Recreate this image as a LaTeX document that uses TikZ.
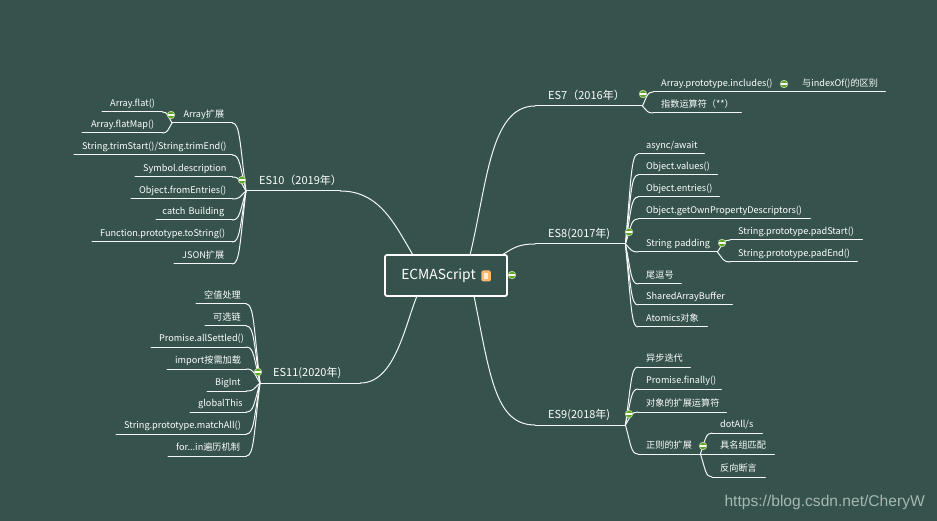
\documentclass[tikz,border=0pt]{standalone}
\usepackage{fontspec}
\setmainfont{Noto Sans CJK SC}
\usetikzlibrary{calc}
\definecolor{bgc}{HTML}{35524C}
\definecolor{dotc}{HTML}{3E5B55}
\definecolor{linec}{HTML}{F4F7F6}
\definecolor{txt}{HTML}{FFFFFF}
\definecolor{grn}{HTML}{5FA31E}
\definecolor{mark}{HTML}{A7B7B1}
\tikzset{
  topicbox/.style={inner ysep=2.5pt,inner xsep=8pt,anchor=south west,text=txt,font=\fontsize{9.15}{11}\selectfont},
  trunk/.style={font=\fontsize{11}{13}\selectfont,align=left,inner ysep=3.6pt},
  lt/.style={align=right},
  rt/.style={align=left},
  conn/.style={draw=linec,line width=1pt,line cap=round},
  collapser/.style={circle,draw=white!60!grn,fill=grn,line width=0.7pt,minimum size=7.5pt,inner sep=0pt},
}
% \topic[opts]{name}{x1}{x2}{y}{text}
\newcommand\topic[6][]{%
  \pgfmathsetlengthmacro\topicw{(#4-#3)*1pt}%
  \pgfmathsetlengthmacro\topict{(#4-#3-16)*1pt}%
  \node[topicbox,#1,minimum width=\topicw,text width=\topict] (#2) at (#3,#5) {\rule[-2.5pt]{0pt}{10pt}#6};
  \draw[conn] (#2.south west) -- (#2.south east);
}
\newcommand\trunktext[1]{\hspace*{5pt}\mbox{#1}}
% curved link: from hub (a) to child end (b)
\newcommand\curvelink[2]{%
  \draw[conn] let \p1=(#1),\p2=(#2) in (\p1) .. controls ({\x1+(\x2-\x1)*.45},{\y1+(\y2-\y1)*.7}) and ({\x1+(\x2-\x1)*.45},\y2) .. (\p2);
}
\newcommand\collapser[3]{%
  \node[collapser] (#1) at (#2,#3) {};
  \draw[white,line width=1.2pt] ($(#1.west)+(1.3,0)$) -- ($(#1.east)+(-1.3,0)$);
}
\begin{document}
\begin{tikzpicture}[x=1pt,y=-1pt]
\useasboundingbox (0,0) rectangle (937,521);
\fill[bgc] (0,0) rectangle (937,521);
\foreach \i in {0,...,26}{\foreach \j in {0,...,14}{\fill[dotc] (9+35*\i,22+35*\j) circle (0.6);}}

% root
\node[draw=white,line width=1.8pt,rounded corners=2pt,minimum width=122pt,minimum height=41pt,inner sep=0pt] (root) at (446,275.5) {};
\node[text=txt,font=\fontsize{13.8}{16}\selectfont,inner sep=0pt] (rootlabel) at (438.5,276) {ECMAScript};
\node[fill=orange!55!white,rounded corners=1.5pt,minimum width=9.5pt,minimum height=11pt,inner sep=0pt] (icon) at (486,276) {};
\node[fill=white!85!orange,minimum width=4pt,minimum height=6.5pt,inner sep=0pt] (iconin) at (486,276) {};
\collapser{croot}{512}{275}
\coordinate (rootA) at (413,255);
\coordinate (rootB) at (417,296);
\coordinate (rootC) at (470,255);
\coordinate (rootD) at (502,255);
\coordinate (rootE) at (474,296);

% trunks
\topic[trunk]{es10}{246}{340}{191}{\trunktext{ES10（2019年）}}
\topic[trunk]{es11}{260}{360}{383}{\trunktext{ES11(2020年)}}
\topic[trunk]{es7}{535}{642}{106}{\trunktext{ES7（2016年）}}
\topic[trunk]{es8}{535}{625}{244}{\trunktext{ES8(2017年)}}
\topic[trunk]{es9}{535}{625}{425}{\trunktext{ES9(2018年)}}
\draw[conn] (es10.south east) .. controls (380,191) and (395,225) .. (rootA);
\draw[conn] (es11.south east) .. controls (395,383) and (405,325) .. (rootB);
\draw[conn] (es7.south west) .. controls (490,106) and (487,185) .. (rootC);
\draw[conn] (es8.south west) .. controls (517,244) and (512,249) .. (rootD);
\draw[conn] (es9.south west) .. controls (495,425) and (490,375) .. (rootE);

% ES10
\topic[lt]{a10}{172}{232}{123}{Array扩展}
\topic[lt]{a11}{102}{162}{112}{Array.flat()}
\topic[lt]{a12}{82}{162}{133}{Array.flatMap()}
\topic[lt]{a2}{74}{232}{155}{String.trimStart()/String.trimEnd()}
\topic[lt]{a3}{135}{232}{177}{Symbol.description}
\topic[lt]{a4}{131}{232}{199}{Object.fromEntries()}
\topic[lt]{a5}{156}{232}{220}{\makebox[\linewidth][r]{catch Building}}
\topic[lt]{a6}{92}{232}{242}{Function.prototype.toString()}
\topic[lt]{a7}{174}{232}{264}{JSON扩展}
\foreach \c in {a10,a2,a3,a4,a5,a6,a7}{\curvelink{es10.south west}{\c.south east}}
\curvelink{a10.south west}{a11.south east}
\curvelink{a10.south west}{a12.south east}
\collapser{ca10}{171}{115}
\collapser{ces10}{242}{180}

% ES11
\topic[lt]{b1}{196}{246}{304}{空值处理}
\topic[lt]{b2}{205}{246}{326}{可选链}
\topic[lt]{b3}{151}{246}{347}{Promise.allSettled()}
\topic[lt]{b4}{167}{246}{369}{import按需加载}
\topic[lt]{b5}{207}{246}{391}{BigInt}
\topic[lt]{b6}{190}{246}{412}{globalThis}
\topic[lt]{b7}{116}{246}{434}{String.prototype.matchAll()}
\topic[lt]{b8}{168}{246}{456}{for...in遍历机制}
\foreach \c in {b1,b2,b3,b4,b5,b6,b7,b8}{\curvelink{es11.south west}{\c.south east}}
\collapser{ces11}{258}{372}

% ES7
\topic[rt]{c1}{653}{782}{92}{Array.prototype.includes()}
\topic[rt]{c11}{794}{885}{92}{与indexOf()的区别}
\topic[rt]{c2}{653}{741}{113}{指数运算符（**）}
\draw[conn] (c1.south east) -- (c11.south west);
\curvelink{es7.south east}{c1.south west}
\curvelink{es7.south east}{c2.south west}
\collapser{ces7}{643}{94}
\collapser{cc1}{784}{84}

% ES8
\topic[rt]{d1}{638}{704}{154}{async/await}
\topic[rt]{d2}{638}{717}{175}{Object.values()}
\topic[rt]{d3}{638}{719}{197}{Object.entries()}
\topic[rt]{d4}{638}{810}{219}{Object.getOwnPropertyDescriptors()}
\topic[rt]{d5}{638}{717}{252}{\makebox[\linewidth][l]{String padding}}
\topic[rt]{d51}{730}{862}{240}{String.prototype.padStart()}
\topic[rt]{d52}{730}{857}{262}{String.prototype.padEnd()}
\topic[rt]{d6}{638}{681}{284}{尾逗号}
\topic[rt]{d7}{638}{732}{305}{SharedArrayBuffer}
\topic[rt]{d8}{638}{707}{327}{Atomics对象}
\foreach \c in {d1,d2,d3,d4,d5,d6,d7,d8}{\curvelink{es8.south east}{\c.south west}}
\curvelink{d5.south east}{d51.south west}
\curvelink{d5.south east}{d52.south west}
\collapser{ces8}{629}{232}
\collapser{cd5}{722}{243}

% ES9
\topic[rt]{e1}{638}{690}{367}{异步迭代}
\topic[rt]{e2}{638}{721}{389}{Promise.finally()}
\topic[rt]{e3}{638}{726}{412}{对象的扩展运算符}
\topic[rt]{e4}{638}{700}{454}{正则的扩展}
\topic[rt]{e41}{712}{762}{433}{dotAll/s}
\topic[rt]{e42}{712}{774}{454}{具名组匹配}
\topic[rt]{e43}{712}{765}{477}{反向断言}
\foreach \c in {e1,e2,e3,e4}{\curvelink{es9.south east}{\c.south west}}
\foreach \c in {e41,e42,e43}{\curvelink{e4.south east}{\c.south west}}
\collapser{ces9}{629}{414}
\collapser{ce4}{703}{446}

% watermark
\node[anchor=east,inner sep=0pt,text=mark] (wm) at (925,502) {\fontspec{Liberation Sans}\fontsize{15.6}{18}\selectfont https://blog.csdn.net/CheryW};
\end{tikzpicture}
\end{document}
